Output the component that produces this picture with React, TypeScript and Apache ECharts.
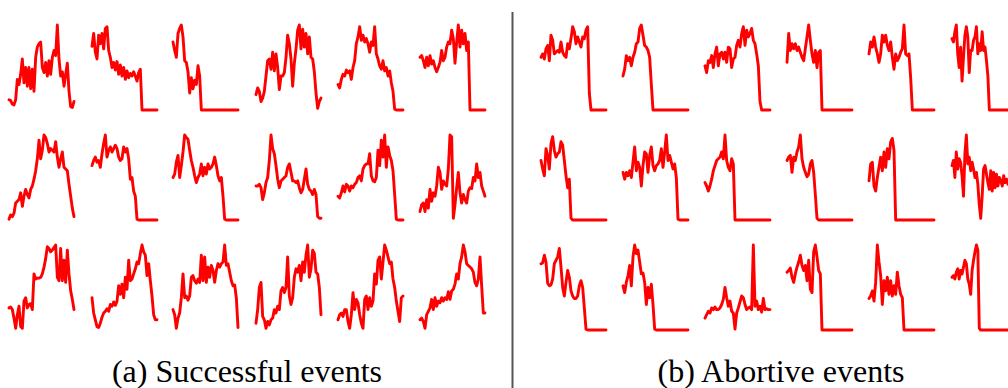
import React, { useEffect, useRef } from "react";
import * as echarts from "echarts";

// (a) Successful events — 3 rows x 6 columns, 40 samples each, values in 0..100
const succ_r1c1 = [12,11,7,6,12,36,30,42,60,32,50,28,50,25,48,22,62,74,78,80,50,44,56,40,58,42,62,70,64,100,60,40,45,28,42,55,22,4,3,10];
const succ_r1c2 = [75,90,68,60,88,78,90,72,96,98,70,62,50,56,47,57,42,53,40,50,36,46,38,43,40,45,40,34,44,48,0,0,0,0,0,0,0,0,0,0];
const succ_r1c3 = [80,70,62,90,96,100,86,58,56,45,20,38,25,35,30,52,40,0,0,0,0,0,0,0,0,0,0,0,0,0,0,0,0,0,0,0,0,0,0,0];
const succ_r1c4 = [18,26,22,10,14,22,40,58,60,48,68,46,66,50,24,40,40,44,62,88,78,60,28,55,72,94,100,72,95,74,90,66,86,62,60,45,20,2,10,14];
const succ_r1c5 = [30,26,36,42,40,47,44,46,36,50,58,78,86,98,82,88,80,84,78,68,80,76,98,66,60,52,48,58,46,50,40,46,32,22,1,0,0,0,0,0];
const succ_r1c6 = [62,64,58,50,62,52,64,54,58,50,45,50,56,70,58,62,74,80,78,94,84,55,80,100,74,94,78,90,70,80,0,0,0,0,0,0,0,0,0,0];
const succ_r2c1 = [1,6,4,8,20,22,24,32,16,28,36,30,26,36,40,48,58,72,94,72,82,100,97,90,80,84,82,80,92,74,62,72,80,62,60,58,42,28,14,4];
const succ_r2c2 = [64,70,74,68,70,62,78,90,100,74,82,86,80,84,88,84,74,70,72,86,80,84,72,48,50,34,28,1,0,0,0,0,0,0,0,0,0,0,0,0];
const succ_r2c3 = [50,54,68,76,50,64,80,100,97,95,82,70,62,52,44,50,54,66,52,62,54,66,60,62,66,74,64,52,46,50,28,1,0,0,0,0,0,0,0,0];
const succ_r2c4 = [40,40,42,38,24,32,44,50,70,100,84,78,64,48,38,46,48,50,52,62,66,56,46,46,44,46,38,32,36,48,60,42,36,34,30,36,30,4,2,2];
const succ_r2c5 = [28,26,32,40,33,42,40,34,40,38,42,44,50,52,46,60,64,66,66,78,52,46,45,50,82,64,94,74,100,62,86,76,70,58,30,1,0,0,0,0];
const succ_r2c6 = [10,18,20,10,24,14,36,22,32,28,40,62,56,36,46,42,40,60,100,98,2,18,38,56,32,20,30,24,20,34,38,37,50,46,66,50,56,40,34,28];
const succ_r3c1 = [26,27,24,14,2,18,28,4,2,34,38,26,30,31,24,66,60,61,61,62,66,74,84,98,96,92,94,97,100,62,58,96,58,82,56,94,66,46,36,24];
const succ_r3c2 = [38,20,12,4,3,8,15,20,22,25,22,30,28,33,29,34,52,42,54,38,62,48,82,58,60,66,72,80,78,90,100,92,88,64,78,58,40,18,12,12];
const succ_r3c3 = [24,18,2,14,20,38,66,38,40,35,40,62,64,58,55,60,56,88,58,86,56,74,62,76,70,56,70,78,74,78,80,100,76,78,68,58,52,53,38,3];
const succ_r3c4 = [8,24,50,56,16,12,2,10,6,12,14,24,20,28,24,46,50,44,50,86,40,30,38,62,72,68,76,58,80,68,88,100,62,72,94,90,68,66,50,18];
const succ_r3c5 = [12,18,20,16,24,24,10,2,18,44,24,36,32,18,8,2,36,40,24,38,28,34,66,54,82,86,60,80,100,94,86,78,80,60,50,34,22,10,38,40];
const succ_r3c6 = [12,14,10,2,18,22,26,36,24,38,28,34,32,38,34,38,36,45,36,46,48,54,66,60,78,86,100,92,78,76,74,72,68,56,52,60,86,52,20,20];

// (b) Abortive events
const abort_r1c1 = [62,66,60,72,76,58,88,82,66,68,70,68,80,68,64,62,78,72,84,98,92,78,86,80,74,86,84,94,98,20,0,0,0,0,0,0,0,0,0,0];
const abort_r1c2 = [40,48,64,58,62,52,62,68,78,80,96,100,88,76,74,70,62,30,0,0,0,0,0,0,0,0,0,0,0,0,0,0,0,0,0,0,0,0,0,0];
const abort_r1c3 = [52,44,58,56,64,50,66,74,52,66,68,60,68,56,74,72,50,60,62,76,82,74,90,98,76,94,86,90,96,82,78,66,52,10,0,0,0,0,0,0];
const abort_r1c4 = [56,90,70,78,72,78,70,74,68,62,58,72,86,100,82,66,56,70,50,68,70,0,0,0,0,0,0,0,0,0,0,0,0,0,0,0,0,0,0,0];
const abort_r1c5 = [66,80,74,86,74,66,56,66,88,80,88,76,70,80,62,48,66,58,62,68,72,100,66,64,66,38,0,0,0,0,0,0,0,0,0,0,0,0,0,0];
const abort_r1c6 = [84,80,92,100,66,50,74,34,62,88,98,86,44,70,70,82,86,98,66,78,70,92,70,74,58,40,0,0,0,0,0,0,0,0,0,0,0,0,0,0];
const abort_r2c1 = [70,60,52,84,76,60,90,98,82,74,78,80,92,88,70,52,38,48,2,0,0,0,0,0,0,0,0,0,0,0,0,0,0,0,0,0,0,0,0,0];
const abort_r2c2 = [56,48,56,52,58,50,68,86,58,68,62,40,64,80,78,56,76,86,64,58,64,66,70,84,62,80,100,70,76,68,60,66,50,1,0,0,0,0,0,0];
const abort_r2c3 = [44,40,34,40,48,58,64,70,72,74,80,72,100,70,62,58,72,66,0,0,0,0,0,0,0,0,0,0,0,0,0,0,0,0,0,0,0,0,0,0];
const abort_r2c4 = [70,74,76,56,74,70,80,86,100,72,62,56,51,54,66,70,56,30,2,0,0,0,0,0,0,0,0,0,0,0,0,0,0,0,0,0,0,0,0,0];
const abort_r2c5 = [46,66,68,40,34,50,62,74,58,80,62,84,72,92,96,82,0,0,0,0,0,0,0,0,0,0,0,0,0,0,0,0,0,0,0,0,0,0,0,0];
const abort_r2c6 = [64,70,50,80,60,72,68,52,28,78,100,66,74,58,68,60,50,56,42,18,2,28,60,64,54,44,36,58,34,56,38,54,40,50,46,40,52,44,48,42];
const abort_r3c1 = [78,79,88,80,55,52,53,60,78,82,86,96,74,50,40,56,70,62,46,40,37,37,40,52,58,50,26,1,0,0,0,0,0,0,0,0,0,0,0,0];
const abort_r3c2 = [52,44,56,64,76,52,86,100,90,94,80,66,67,56,30,50,38,54,30,1,0,0,0,0,0,0,0,0,0,0,0,0,0,0,0,0,0,0,0,0];
const abort_r3c3 = [14,18,22,20,26,24,27,24,24,26,30,36,50,38,28,34,22,20,1,20,26,33,40,38,30,24,26,27,24,100,28,34,24,28,21,37,24,25,24,24];
const abort_r3c4 = [68,70,73,62,56,66,74,80,88,76,70,76,58,82,48,44,92,100,86,70,66,0,0,0,0,0,0,0,0,0,0,0,0,0,0,0,0,0,0,0];
const abort_r3c5 = [37,40,46,34,56,100,80,64,30,58,46,62,42,58,40,52,42,68,52,42,38,0,0,0,0,0,0,0,0,0,0,0,0,0,0,0,0,0,0,0];
const abort_r3c6 = [62,64,60,68,72,60,70,66,74,82,78,60,54,42,70,82,92,100,94,2,0,0,0,0,0,0,0,0,0,0,0,0,0,0,0,0,0,0,0,0];

const successfulEvents = [
  succ_r1c1, succ_r1c2, succ_r1c3, succ_r1c4, succ_r1c5, succ_r1c6,
  succ_r2c1, succ_r2c2, succ_r2c3, succ_r2c4, succ_r2c5, succ_r2c6,
  succ_r3c1, succ_r3c2, succ_r3c3, succ_r3c4, succ_r3c5, succ_r3c6,
];
const abortiveEvents = [
  abort_r1c1, abort_r1c2, abort_r1c3, abort_r1c4, abort_r1c5, abort_r1c6,
  abort_r2c1, abort_r2c2, abort_r2c3, abort_r2c4, abort_r2c5, abort_r2c6,
  abort_r3c1, abort_r3c2, abort_r3c3, abort_r3c4, abort_r3c5, abort_r3c6,
];

const captionA = "(a) Successful events";
const captionB = "(b) Abortive events";

export default function App() {
  const ref = useRef<HTMLDivElement>(null);
  useEffect(() => {
    const chart = echarts.init(ref.current!, null, { renderer: "svg" });
    const colA = [9, 92, 173, 256, 338, 420];
    const colB = [541, 623, 705, 787, 869, 952];
    const rowTops = [25, 135, 245];
    const panelW = 65;
    const panelH = 85;
    const grid: any[] = [];
    const xAxis: any[] = [];
    const yAxis: any[] = [];
    const series: any[] = [];
    const addPanel = (left: number, top: number, values: number[]) => {
      const idx = grid.length;
      grid.push({ left, top, width: panelW, height: panelH, containLabel: false });
      xAxis.push({ type: "value", gridIndex: idx, min: 0, max: values.length - 1, show: false });
      yAxis.push({ type: "value", gridIndex: idx, min: 0, max: 100, show: false });
      series.push({
        type: "line",
        xAxisIndex: idx,
        yAxisIndex: idx,
        data: values.map((v, i) => [i, v]),
        showSymbol: false,
        symbol: "none",
        clip: false,
        lineStyle: { color: "#ff0000", width: 2.9, join: "round", cap: "round" },
        silent: true,
      });
    };
    successfulEvents.forEach((vals, k) => addPanel(colA[k % 6], rowTops[Math.floor(k / 6)], vals));
    abortiveEvents.forEach((vals, k) => addPanel(colB[k % 6], rowTops[Math.floor(k / 6)], vals));

    chart.setOption({
      animation: false,
      backgroundColor: "#ffffff",
      grid,
      xAxis,
      yAxis,
      series,
      graphic: [
        {
          type: "line",
          shape: { x1: 512.5, y1: 12, x2: 512.5, y2: 388 },
          style: { stroke: "#555555", lineWidth: 2 },
        },
        {
          type: "text",
          x: 247,
          y: 371,
          style: {
            text: captionA,
            fill: "#000000",
            font: '32px "Liberation Serif"',
            textAlign: "center",
            textVerticalAlign: "middle",
          },
        },
        {
          type: "text",
          x: 781,
          y: 371,
          style: {
            text: captionB,
            fill: "#000000",
            font: '32px "Liberation Serif"',
            textAlign: "center",
            textVerticalAlign: "middle",
          },
        },
      ],
    });
    return () => chart.dispose();
  }, []);
  return (
    <div
      ref={ref}
      style={{ position: "absolute", left: 0, top: 0, width: 1008, height: 388, background: "#fff" }}
    />
  );
}
